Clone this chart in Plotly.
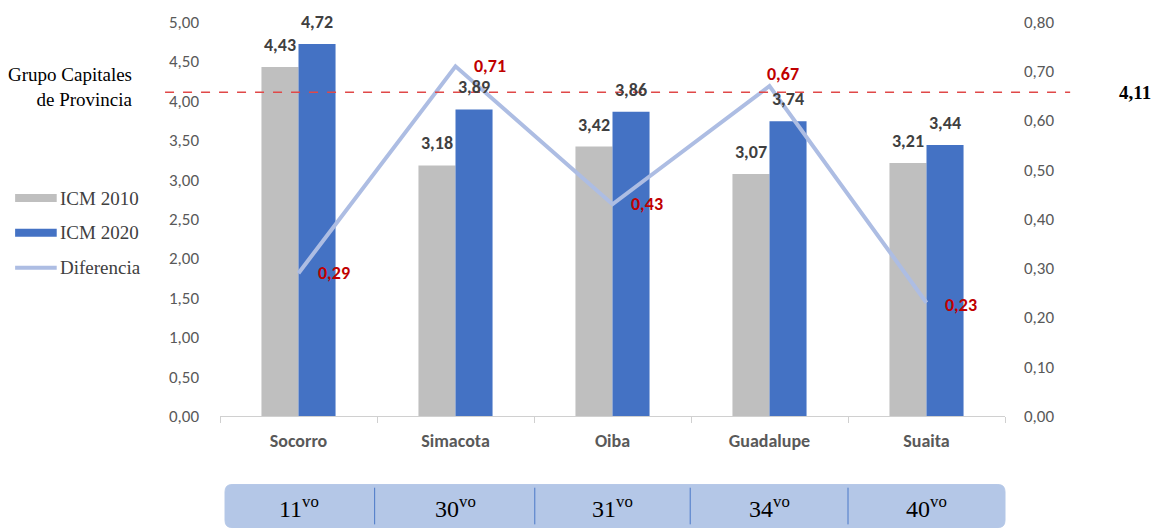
import plotly.graph_objects as go

# Municipios y valores del índice
municipios = ["Socorro", "Simacota", "Oiba", "Guadalupe", "Suaita"]
icm_2010 = [4.43, 3.18, 3.42, 3.07, 3.21]
icm_2020 = [4.72, 3.89, 3.86, 3.74, 3.44]
diferencia = [0.29, 0.71, 0.43, 0.67, 0.23]
puestos = ["11", "30", "31", "34", "40"]
grupo_capitales = 4.11

GRIS = "#bfbfbf"
AZUL = "#4472c4"
AZUL_CLARO = "#adbde3"
ROJO = "#c00000"
TXT = "#595959"
SANS = "Carlito, Lato, Liberation Sans, sans-serif"
SERIF = "Liberation Serif, Times New Roman, serif"


def coma(v):
    return f"{v:.2f}".replace(".", ",")


fig = go.Figure()
fig.add_trace(go.Bar(x=municipios, y=icm_2010, name="ICM 2010",
                     marker=dict(color=GRIS, line=dict(width=0))))
fig.add_trace(go.Bar(x=municipios, y=icm_2020, name="ICM 2020",
                     marker=dict(color=AZUL, line=dict(width=0))))
fig.add_trace(go.Scatter(x=municipios, y=diferencia, name="Diferencia", yaxis="y2",
                         mode="lines", line=dict(color=AZUL_CLARO, width=4)))

ann = []
off = 0.118
for i in range(len(municipios)):
    ann.append(dict(x=i - off, y=icm_2010[i], xref="x", yref="y", text=coma(icm_2010[i]),
                    showarrow=False, yanchor="bottom", yshift=9,
                    font=dict(family=SANS, size=18, color="#404040", weight="bold")))
    ann.append(dict(x=i + off, y=icm_2020[i], xref="x", yref="y", text=coma(icm_2020[i]),
                    showarrow=False, yanchor="bottom", yshift=9,
                    font=dict(family=SANS, size=18, color="#404040", weight="bold")))

# Etiquetas de la diferencia
dif_pos = [(17, 0), (16, 0), (16, 0), (-5, 12), (16, -2)]
for i, (dx, dy) in enumerate(dif_pos):
    ann.append(dict(x=i, y=diferencia[i], xref="x", yref="y2", text=coma(diferencia[i]),
                    showarrow=False, xanchor="left", yanchor="middle", xshift=dx, yshift=dy,
                    font=dict(family=SANS, size=18, color=ROJO, weight="bold")))

# Referencia del grupo de capitales
ann.append(dict(x=-0.108, y=0.836, xref="paper", yref="paper", text="Grupo Capitales<br>de Provincia",
                showarrow=False, xanchor="right", yanchor="middle", align="right",
                font=dict(family=SERIF, size=19, color="#000000")))
ann.append(dict(x=1.166, y=grupo_capitales, xref="paper", yref="y", text=coma(grupo_capitales),
                showarrow=False, xanchor="center", yanchor="middle",
                font=dict(family=SERIF, size=19, color="#000000", weight="bold")))

shapes = [dict(type="line", xref="paper", yref="y", x0=-0.07, x1=1.083,
               y0=grupo_capitales, y1=grupo_capitales,
               line=dict(color="#e04848", width=1.5, dash="dash"))]

# Leyenda
leyenda = [("ICM 2010", GRIS, 8, 0.553), ("ICM 2020", AZUL, 8, 0.465), ("Diferencia", AZUL_CLARO, 4, 0.376)]
for nombre, color, grosor, yy in leyenda:
    shapes.append(dict(type="line", xref="paper", yref="paper", x0=-0.261, x1=-0.208, y0=yy, y1=yy,
                       line=dict(color=color, width=grosor)))
    ann.append(dict(x=-0.206, y=yy, xref="paper", yref="paper", text=nombre, showarrow=False,
                    xanchor="left", yanchor="middle", font=dict(family=SERIF, size=19, color="#404040")))

# Tabla de puestos
x0, x1, y0, y1 = 0.0064, 1.0, -0.283, -0.174
rx, ry = 0.009, 0.018
path = (f"M {x0+rx},{y0} L {x1-rx},{y0} Q {x1},{y0} {x1},{y0+ry} L {x1},{y1-ry} Q {x1},{y1} {x1-rx},{y1} "
        f"L {x0+rx},{y1} Q {x0},{y1} {x0},{y1-ry} L {x0},{y0+ry} Q {x0},{y0} {x0+rx},{y0} Z")
shapes.append(dict(type="path", xref="paper", yref="paper", path=path,
                   fillcolor="#b4c7e7", line=dict(color="#b4c7e7", width=1), layer="below"))
for xd in [0.197, 0.401, 0.599, 0.8]:
    shapes.append(dict(type="line", xref="paper", yref="paper", x0=xd, x1=xd, y0=y0 + 0.008, y1=y1 - 0.008,
                       line=dict(color="#4a78c8", width=1)))
for i, p in enumerate(puestos):
    ann.append(dict(x=i, y=-0.232, xref="x", yref="paper", text=f"{p}<sup>vo</sup>", showarrow=False,
                    xanchor="center", yanchor="middle", font=dict(family=SERIF, size=24, color="#000000")))

fig.update_layout(
    width=1161, height=531,
    margin=dict(l=220, r=156, t=20, b=115),
    paper_bgcolor="white", plot_bgcolor="white",
    barmode="group", bargap=0.528, bargroupgap=0,
    showlegend=False,
    xaxis=dict(showline=True, linecolor="#d0d0d0", linewidth=1, ticks="outside", tickson="boundaries",
               ticklen=6, tickcolor="#d0d0d0", showgrid=False, ticklabelstandoff=8,
               tickfont=dict(family=SANS, size=18, color=TXT, weight="bold")),
    yaxis=dict(range=[0, 5], tickvals=[i * 0.5 for i in range(11)],
               ticktext=[coma(i * 0.5) for i in range(11)], showgrid=False, zeroline=False,
               showline=False, ticks="", ticklabelstandoff=20,
               tickfont=dict(family=SANS, size=17, color=TXT)),
    yaxis2=dict(range=[0, 0.8], tickvals=[i * 0.1 for i in range(9)],
                ticktext=[coma(i * 0.1) for i in range(9)], overlaying="y", side="right",
                showgrid=False, zeroline=False, showline=False, ticks="", ticklabelstandoff=18,
                tickfont=dict(family=SANS, size=17, color=TXT)),
    annotations=ann, shapes=shapes,
)

fig.write_html("out.html")
